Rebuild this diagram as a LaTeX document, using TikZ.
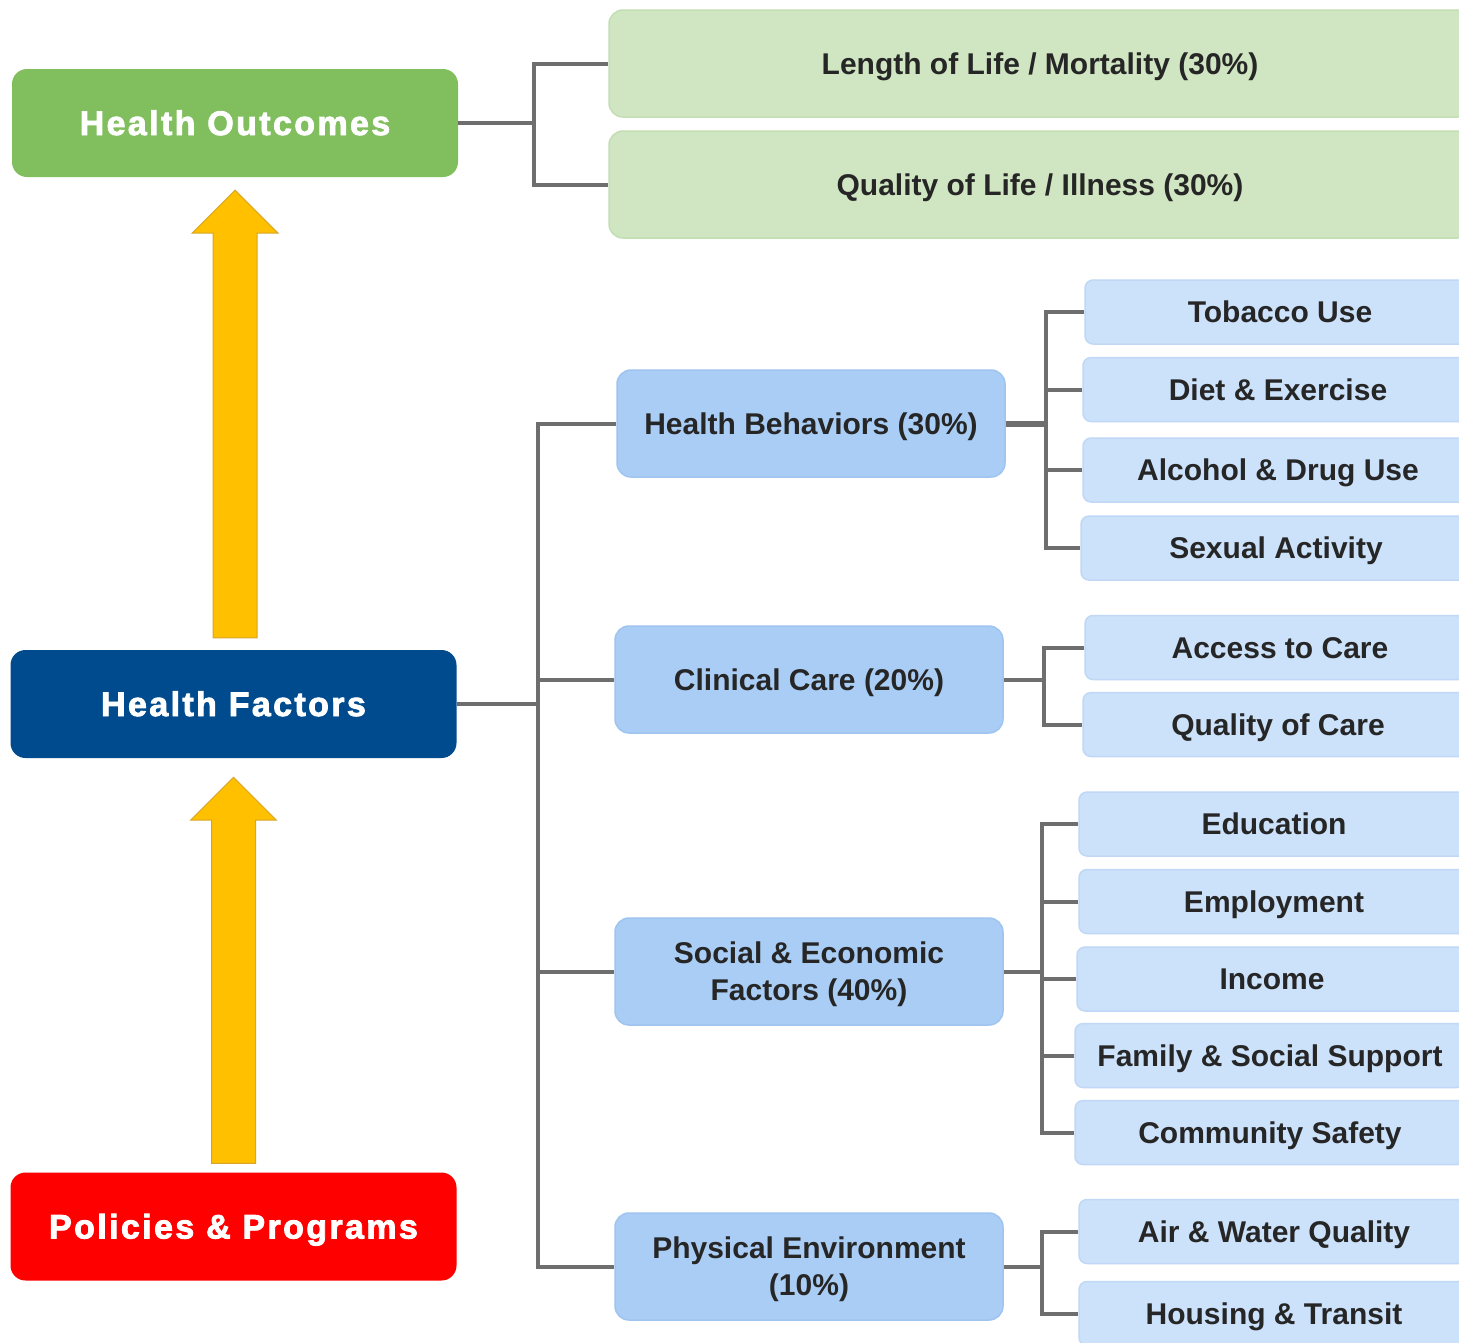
\documentclass[tikz,border=0pt]{standalone}
\usepackage{fontspec}
\setmainfont{Liberation Sans}
\newfontfamily\titlefont{Liberation Sans Bold}[LetterSpace=7,FakeBold=2.5]
\usetikzlibrary{calc}
\definecolor{hoGreen}{RGB}{128,190,94}
\definecolor{hfBlue}{RGB}{0,75,141}
\definecolor{ppRed}{RGB}{255,0,0}
\definecolor{gold}{RGB}{255,192,0}
\definecolor{goldEdge}{RGB}{214,166,40}
\definecolor{outGreen}{RGB}{208,230,194}
\definecolor{outGreenEdge}{RGB}{196,222,180}
\definecolor{midBlue}{RGB}{170,205,245}
\definecolor{midBlueEdge}{RGB}{160,196,240}
\definecolor{leafBlue}{RGB}{204,225,250}
\definecolor{leafBlueEdge}{RGB}{192,216,246}
\definecolor{connGray}{RGB}{110,110,110}
\definecolor{txt}{RGB}{38,38,38}
\begin{document}
\begin{tikzpicture}[x=1pt,y=-1pt,
  title/.style={rounded corners=15pt, minimum width=446pt, minimum height=108pt, inner sep=0pt,
    text=white, text height=24pt, text depth=0pt, font=\titlefont\fontsize{34}{38}\selectfont},
  outbox/.style={rounded corners=14pt, fill=outGreen, draw=outGreenEdge, line width=1.5pt,
    minimum width=862pt, minimum height=107pt, inner sep=0pt, text=txt,
    text height=21.5pt, text depth=0pt,
    font=\bfseries\fontsize{30}{36}\selectfont},
  midbox/.style={rounded corners=14pt, fill=midBlue, draw=midBlueEdge, line width=1.5pt,
    minimum width=388pt, minimum height=107pt, inner sep=0pt, text=txt, align=center,
    text height=21.5pt, text depth=0pt,
    font=\bfseries\fontsize{30}{37}\selectfont},
  twoline/.style={text height=58.5pt, text depth=0pt},
  leaf/.style={rounded corners=8pt, fill=leafBlue, draw=leafBlueEdge, line width=1.5pt,
    minimum width=390pt, minimum height=64pt, inner sep=0pt, text=txt,
    text height=21.5pt, text depth=0pt,
    font=\bfseries\fontsize{30}{36}\selectfont},
  conn/.style={draw=connGray, line width=4pt, line join=miter},
  bigarrow/.style={fill=gold, draw=goldEdge, line width=1pt, line join=miter}
]
\clip (0,0) rectangle (1459,1342);
\fill[white] (0,0) rectangle (1459,1342);

% left column
\node[title, fill=hoGreen] (ho) at (235,123) {Health Outcomes};
\node[title, fill=hfBlue] (hf) at (233.5,704) {Health Factors};
\node[title, fill=ppRed] (pp) at (233.5,1226.5) {Policies \& Programs};

% outcomes
\node[outbox] (len) at (1040,63.5) {Length of Life / Mortality (30\%)};
\node[outbox] (qol) at (1040,184.5) {Quality of Life / Illness (30\%)};

% factor groups
\node[midbox] (hb) at (811,423.5) {Health Behaviors (30\%)};
\node[midbox] (cc) at (809,679.5) {Clinical Care (20\%)};
\node[midbox, twoline] (se) at (809,971.5) {Social \& Economic\\Factors (40\%)};
\node[midbox, twoline] (pe) at (809,1266.5) {Physical Environment\\(10\%)};

% leaves
\node[leaf] (tob) at (1280,312) {Tobacco Use};
\node[leaf] (diet) at (1278,389.5) {Diet \& Exercise};
\node[leaf] (alc) at (1278,470) {Alcohol \& Drug Use};
\node[leaf] (sex) at (1276,548) {Sexual Activity};
\node[leaf] (acc) at (1280,647.5) {Access to Care};
\node[leaf] (qoc) at (1278,724.5) {Quality of Care};
\node[leaf] (edu) at (1274,824) {Education};
\node[leaf] (emp) at (1274,901.5) {Employment};
\node[leaf] (inc) at (1272,979) {Income};
\node[leaf] (fam) at (1270,1055.5) {Family \& Social Support};
\node[leaf] (com) at (1270,1132.5) {Community Safety};
\node[leaf] (air) at (1274,1231.5) {Air \& Water Quality};
\node[leaf] (hou) at (1274,1313.5) {Housing \& Transit};

% bus coordinates
\coordinate (bHO) at (534,0);
\coordinate (bHF) at (538,0);
\coordinate (bHB) at (1046,0);
\coordinate (bCC) at (1044,0);
\coordinate (bSE) at (1042,0);
\coordinate (bPE) at (1042,0);

% connectors: outcomes
\draw[conn] (len.west) -- (len.west -| bHO) -- (qol.west -| bHO) -- (qol.west);
\draw[conn] (ho.east) -- (ho.east -| bHO);

% connectors: health factors
\draw[conn] (hb.west) -- (hb.west -| bHF) -- (pe.west -| bHF) -- (pe.west);
\draw[conn] (cc.west) -- (cc.west -| bHF);
\draw[conn] (se.west) -- (se.west -| bHF);
\draw[conn] (hf.east) -- (hf.east -| bHF);

% health behaviors
\draw[conn] (tob.west) -- (tob.west -| bHB) -- (sex.west -| bHB) -- (sex.west);
\draw[conn] (diet.west) -- (diet.west -| bHB);
\draw[conn] (alc.west) -- (alc.west -| bHB);
\draw[conn, line width=6pt] (hb.east) -- (hb.east -| bHB);

% clinical care
\draw[conn] (acc.west) -- (acc.west -| bCC) -- (qoc.west -| bCC) -- (qoc.west);
\draw[conn] (cc.east) -- (cc.east -| bCC);

% social & economic
\draw[conn] (edu.west) -- (edu.west -| bSE) -- (com.west -| bSE) -- (com.west);
\draw[conn] (emp.west) -- (emp.west -| bSE);
\draw[conn] (inc.west) -- (inc.west -| bSE);
\draw[conn] (fam.west) -- (fam.west -| bSE);
\draw[conn] (se.east) -- (se.east -| bSE);

% physical environment
\draw[conn] (air.west) -- (air.west -| bPE) -- (hou.west -| bPE) -- (hou.west);
\draw[conn] (pe.east) -- (pe.east -| bPE);

% big arrows
\coordinate (a1t) at ($(ho.south)+(0,13)$);
\coordinate (a1b) at ($(hf.north)+(0,-12)$);
\coordinate (a2t) at ($(hf.south)+(0,19)$);
\coordinate (a2b) at ($(pp.north)+(0,-9)$);
\draw[bigarrow] let \p1=(a1t), \p2=(a1b) in
  (\x1-22pt,\y2) -- (\x1-22pt,\y1-43pt) -- (\x1-43pt,\y1-43pt) -- (\x1,\y1)
  -- (\x1+43pt,\y1-43pt) -- (\x1+22pt,\y1-43pt) -- (\x1+22pt,\y2) -- cycle;
\draw[bigarrow] let \p1=(a2t), \p2=(a2b) in
  (\x1-22pt,\y2) -- (\x1-22pt,\y1-43pt) -- (\x1-43pt,\y1-43pt) -- (\x1,\y1)
  -- (\x1+43pt,\y1-43pt) -- (\x1+22pt,\y1-43pt) -- (\x1+22pt,\y2) -- cycle;
\end{tikzpicture}
\end{document}
